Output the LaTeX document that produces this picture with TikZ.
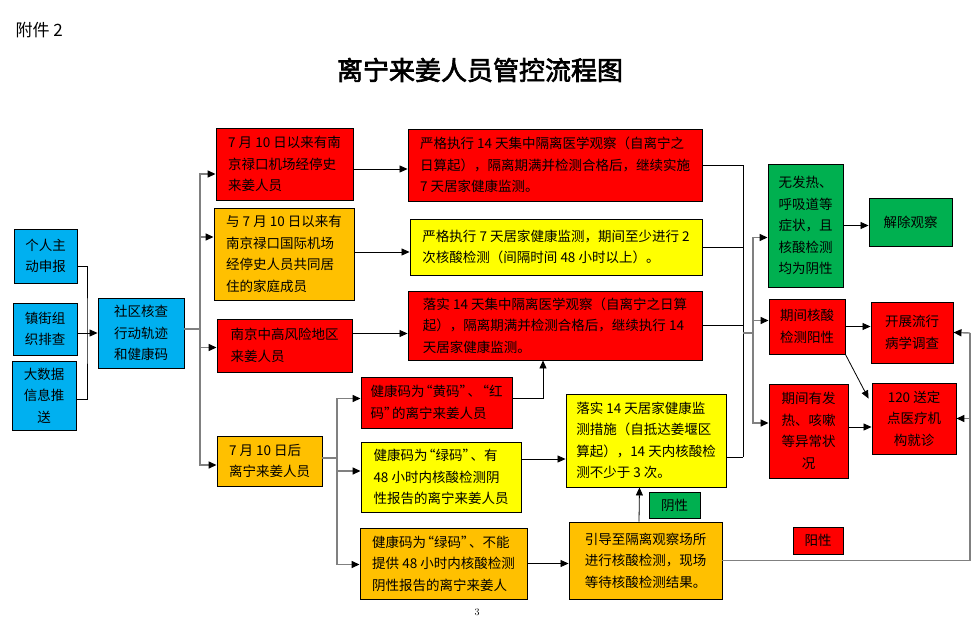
\documentclass[tikz,border=0pt]{standalone}
\usepackage{fontspec}
\newfontfamily\cjk{Noto Sans CJK SC}
\newfontfamily\cjkb[FakeBold=2.5]{Noto Sans CJK SC}
\usetikzlibrary{arrows.meta,calc}
\definecolor{cred}{HTML}{FF0000}
\definecolor{corange}{HTML}{FFC000}
\definecolor{cyellow}{HTML}{FFFF00}
\definecolor{cblue}{HTML}{00B0F0}
\definecolor{cgreen}{HTML}{00B050}
\definecolor{cgray}{HTML}{808080}
\newcommand\oq{\makebox[8pt][r]{“}}
\newcommand\cq{\makebox[8pt][l]{”}}
\begin{document}
\begin{tikzpicture}[x=1pt,y=-1pt,
  box/.style={draw=black, line width=0.9pt, align=left, inner sep=0pt,
    font=\cjk\fontsize{13.5}{21.5}\selectfont, text=black},
  cbox/.style={box, align=center},
  arr/.style={draw=black, line width=0.8pt, -{Triangle[length=8pt,width=7pt]}},
  bline/.style={draw=black, line width=0.8pt},
  gline/.style={draw=cgray, line width=1.4pt},
  garr/.style={draw=cgray, line width=1.4pt, -{Triangle[length=8pt,width=7pt,color=black]}}]
\useasboundingbox[fill=white] (0,0) rectangle (980,626);

% header
\node[anchor=west, font=\cjk\fontsize{17}{17}\selectfont] (att) at (12,30) {附件 2};
\node[font=\cjkb\fontsize{26}{26}\selectfont] (title) at (480,70) {离宁来姜人员管控流程图};
\node[font=\fontsize{10}{10}\selectfont] (pg) at (477,612) {3};

% left sources
\node[cbox, fill=cblue, minimum width=63pt, minimum height=54pt] (b1) at (45.5,256) {个人主\\动申报};
\node[cbox, fill=cblue, minimum width=64pt, minimum height=52pt] (b2) at (45,329) {镇街组\\织排查};
\node[cbox, fill=cblue, minimum width=64pt, minimum height=69pt] (b3) at (44,395.5) {大数据\\信息推\\送};
\node[cbox, fill=cblue, minimum width=86pt, minimum height=70pt] (sq) at (141,333) {社区核查\\行动轨迹\\和健康码};

% column 2
\node[box, fill=cred, minimum width=137pt, minimum height=72pt] (A) at (284.5,164) {7 月 10 日以来有南\\京禄口机场经停史\\来姜人员};
\node[box, fill=corange, minimum width=140pt, minimum height=92pt] (B) at (284,254) {与 7 月 10 日以来有\\南京禄口国际机场\\经停史人员共同居\\住的家庭成员};
\node[box, fill=cred, minimum width=135pt, minimum height=53pt] (C) at (284.5,345.5) {南京中高风险地区\\来姜人员};
\node[box, fill=corange, minimum width=105pt, minimum height=50pt] (D) at (269.5,461) {7 月 10 日后\\离宁来姜人员};

% column 3
\node[box, fill=cred, minimum width=294pt, minimum height=72pt] (E) at (555,165) {严格执行 14 天集中隔离医学观察（自离宁之\\日算起），隔离期满并检测合格后，继续实施\\7 天居家健康监测。};
\node[box, fill=cyellow, minimum width=292pt, minimum height=56pt] (F) at (556,247) {严格执行 7 天居家健康监测，期间至少进行 2\\次核酸检测（间隔时间 48 小时以上）。};
\node[box, fill=cred, minimum width=294pt, minimum height=69pt] (G) at (555,325.5) {落实 14 天集中隔离医学观察（自离宁之日算\\起），隔离期满并检测合格后，继续执行 14\\天居家健康监测。};

\node[box, fill=cred, minimum width=151pt, minimum height=51pt] (H) at (436.5,402.5) {健康码为\oq 黄码\cq 、\oq 红\\码\cq 的离宁来姜人员};
\node[box, fill=cyellow, minimum width=160pt, minimum height=70pt] (I) at (441,477) {健康码为\oq 绿码\cq 、有\\48 小时内核酸检测阴\\性报告的离宁来姜人员};
\node[box, fill=corange, minimum width=167pt, minimum height=71pt] (J) at (443.5,563.5) {健康码为\oq 绿码\cq 、不能\\提供 48 小时内核酸检测\\阴性报告的离宁来姜人};

\node[box, fill=cyellow, minimum width=160pt, minimum height=93pt] (K) at (646,440.5) {落实 14 天居家健康监\\测措施（自抵达姜堰区\\算起），14 天内核酸检\\测不少于 3 次。};
\node[box, fill=corange, minimum width=153pt, minimum height=77pt] (L) at (645.5,560.5) {引导至隔离观察场所\\进行核酸检测，现场\\等待核酸检测结果。};
\node[cbox, fill=cgreen, minimum width=51pt, minimum height=26pt] (yin) at (674.5,505) {阴性};

% right columns
\node[box, fill=cgreen, minimum width=75pt, minimum height=123pt] (M) at (805.5,225.5) {无发热、\\呼吸道等\\症状，且\\核酸检测\\均为阴性};
\node[cbox, fill=cgreen, minimum width=83pt, minimum height=48pt] (P) at (910.5,222) {解除观察};
\node[cbox, fill=cred, minimum width=76pt, minimum height=55pt] (N) at (807,326.5) {期间核酸\\检测阳性};
\node[cbox, fill=cred, minimum width=82pt, minimum height=61pt] (Q) at (912,332.5) {开展流行\\病学调查};
\node[cbox, fill=cred, minimum width=79pt, minimum height=94pt] (O) at (808.5,431) {期间有发\\热、咳嗽\\等异常状\\况};
\node[cbox, fill=cred, minimum width=84pt, minimum height=71pt] (R) at (914,418.5) {120 送定\\点医疗机\\构就诊};
\node[cbox, fill=cred, minimum width=50pt, minimum height=27pt] (yang) at (818,540.5) {阳性};

% left bracket
\coordinate (jl) at (87,329);
\draw[bline] ([yshift=-10pt]b1.east) -| (jl) |- ([yshift=-4pt]b3.east);
\draw[arr] ([yshift=-4pt]b2.east) -- ([yshift=-4pt]b2.east -| sq.west);

% trunk 1
\coordinate (t1) at (200,329);
\draw[gline] ([yshift=4pt]sq.east) -- (t1);
\draw[garr] (t1) |- ([yshift=-10pt]A.west);
\draw[garr] (t1) |- ([yshift=17pt]B.west);
\draw[garr] (t1) |- ([yshift=-2pt]C.west);
\draw[garr] (t1) |- ([yshift=-4pt]D.west);

% column 2 -> column 3
\draw[arr] ([yshift=-5pt]A.east) -- ([yshift=-5pt]A.east -| E.west);
\draw[arr] ([yshift=2pt]B.east) -- ([yshift=2pt]B.east -| F.west);
\coordinate (ce) at ([yshift=-8pt]G.west -| C.east);
\draw[arr] (ce) -- (ce -| G.west);

% trunk 2
\coordinate (t2) at (337,458);
\draw[gline] ([yshift=3pt]D.east) -- (t2);
\draw[garr] (t2) |- ([yshift=4pt]H.west);
\draw[garr] (t2) |- ([yshift=6pt]I.west);
\draw[garr] (t2) |- ([yshift=-1pt]J.west);

% H up to G
\coordinate (gs) at ([xshift=-12pt]G.south);
\draw[arr] ([yshift=4pt]H.east) -| (gs);
% I -> K
\coordinate (ie) at ([yshift=18pt]I.east);
\draw[arr] (ie) -- (ie -| K.west);
% J -> L
\draw[arr] (J.east) -- (J.east -| L.west);
% L -> K
\coordinate (ln) at ([xshift=-6.5pt]L.north);
\coordinate (ks) at ([xshift=-6.5pt]K.south);
\draw[arr] (ln) -- (ks);

% merge to right
\coordinate (ke) at ([yshift=-16.5pt]K.east);
\coordinate (t3b) at (743,457);
\coordinate (t3) at (743,333);
\draw[bline] (E.east) -| (t3b);
\draw[bline] (F.east) -- (F.east -| t3b);
\draw[bline] (G.east) -- (G.east -| t3b);
\draw[bline] (ke) -- (t3b);
\coordinate (t4) at (753,333);
\draw[gline] (t3) -- (t4);
\draw[garr] (t4) |- ([yshift=-12pt]M.west);
\draw[garr] (t4) |- ([yshift=6pt]N.west);
\draw[garr] (t4) |- ([yshift=8pt]O.west);

\draw[arr] (M.east) -- (M.east -| P.west);
\draw[arr] (N.east) -- (N.east -| Q.west);
\draw[arr] (N.south east) -- ([xshift=-3pt,yshift=-16pt]R.north west);
\coordinate (oe) at ([yshift=4pt]O.east);
\draw[arr] (oe) -- (oe -| R.west);

% positive loop on the right
\coordinate (t5) at (970,333);
\draw[gline] (L.east) -| (t5);
\draw[garr] (t5) -- (Q.east);
\coordinate (t5r) at (R.east -| t5);
\draw[garr] (t5r) -- (R.east);
\end{tikzpicture}
\end{document}
